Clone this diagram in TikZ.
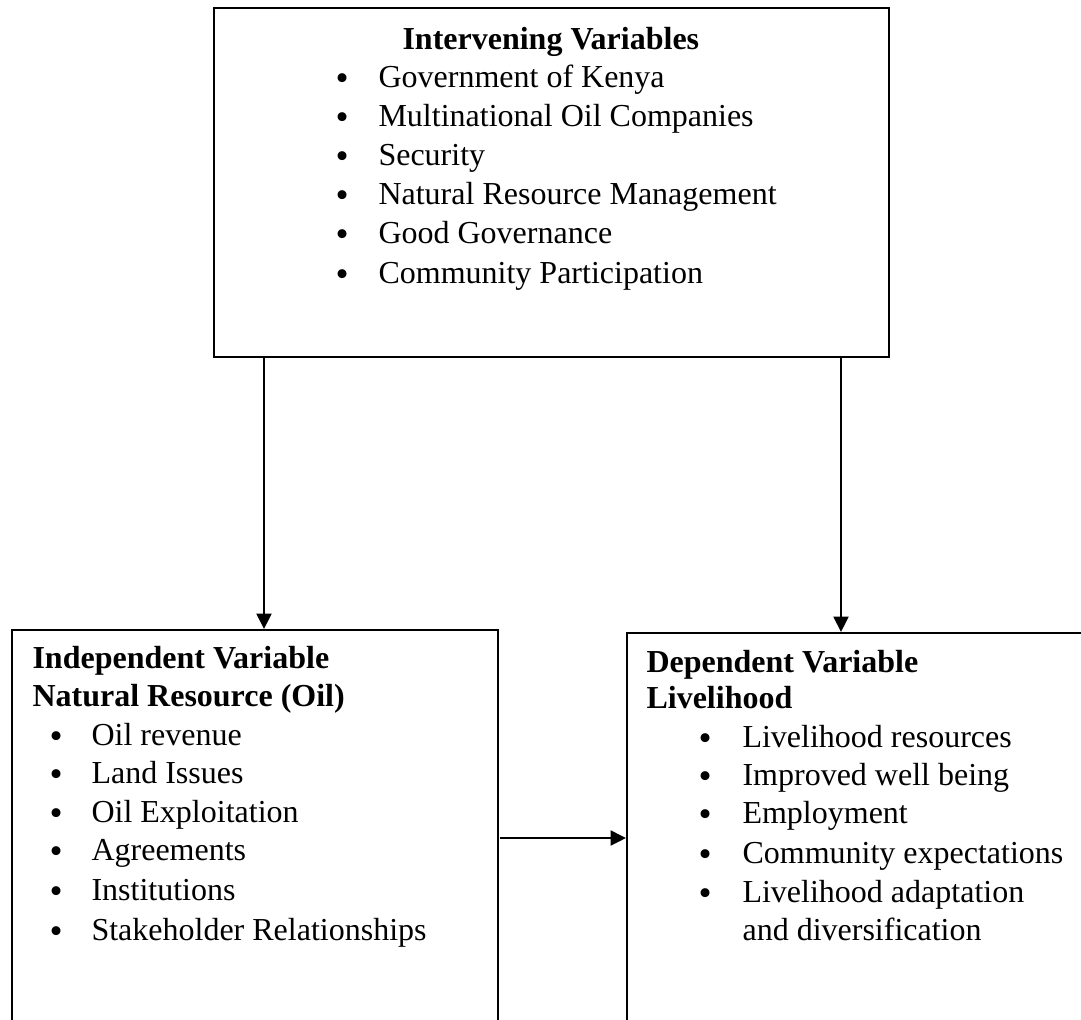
\documentclass[tikz,border=0pt]{standalone}
\usepackage{fontspec}
\setmainfont{Liberation Serif}
\usetikzlibrary{arrows.meta}
\tikzset{
  box/.style={draw=black, line width=0.8pt, rectangle, inner sep=0pt, anchor=north west},
  txt/.style={anchor=base west, inner sep=0pt, font=\fontsize{12pt}{14pt}\selectfont},
  head/.style={txt, font=\fontsize{12pt}{14pt}\selectfont\bfseries},
  bul/.style={anchor=base west, inner sep=0pt, yshift=-1.3pt, font=\fontsize{14pt}{14pt}\selectfont},
  arr/.style={line width=0.85pt, -{Triangle[length=5.8pt,width=5.6pt]}},
}
\newcommand\myitem[5]{%
  \node[bul] (#1b) at (#2,#4) {•};
  \node[txt] (#1) at (#3,#4) {#5};
}
\begin{document}
\begin{tikzpicture}[x=0.375pt,y=-0.375pt]
\useasboundingbox (0,0) rectangle (1081,1019);
\fill[white] (0,0) rectangle (1081,1019);
\clip (0,0) rectangle (1081,1019);
% boxes
\node[box, minimum width=675*0.375pt, minimum height=349*0.375pt] (top) at (213,7) {};
\node[box, minimum width=486*0.375pt, minimum height=450*0.375pt] (indep) at (11,629) {};
\node[box, minimum width=500*0.375pt, minimum height=450*0.375pt] (dep) at (626,632) {};
% top box text
\node[head] (toptitle) at (402,49) {Intervening Variables};
\myitem{t1}{335}{378}{87}{Government of Kenya}
\myitem{t2}{335}{378}{126}{Multinational Oil Companies}
\myitem{t3}{335}{378}{165}{Security}
\myitem{t4}{335}{378}{204}{Natural Resource Management}
\myitem{t5}{335}{378}{243}{Good Governance}
\myitem{t6}{335}{378}{283}{Community Participation}
% independent box text
\node[head] (ititle1) at (32,668) {Independent Variable};
\node[head] (ititle2) at (32,706) {Natural Resource (Oil)};
\myitem{i1}{49}{91}{745}{Oil revenue}
\myitem{i2}{49}{91}{783}{Land Issues}
\myitem{i3}{49}{91}{822}{Oil Exploitation}
\myitem{i4}{49}{91}{860}{Agreements}
\myitem{i5}{49}{91}{900}{Institutions}
\myitem{i6}{49}{91}{940}{Stakeholder Relationships}
% dependent box text
\node[head] (dtitle1) at (646,672) {Dependent Variable};
\node[head] (dtitle2) at (646,708) {Livelihood};
\myitem{d1}{698}{742}{747}{Livelihood resources}
\myitem{d2}{698}{742}{785}{Improved well being}
\myitem{d3}{698}{742}{823}{Employment}
\myitem{d4}{698}{742}{863}{Community expectations}
\myitem{d5}{698}{742}{902}{Livelihood adaptation}
\node[txt] (d5b2) at (742,940) {and diversification};
% connectors
\coordinate (la) at (264,356);
\coordinate (ra) at (841,356);
\coordinate (ha) at (500,838);
\draw[arr] (la) -- (la |- indep.north);
\draw[arr] (ra) -- (ra |- dep.north);
\draw[arr] (ha) -- (ha -| dep.west);
\end{tikzpicture}
\end{document}
